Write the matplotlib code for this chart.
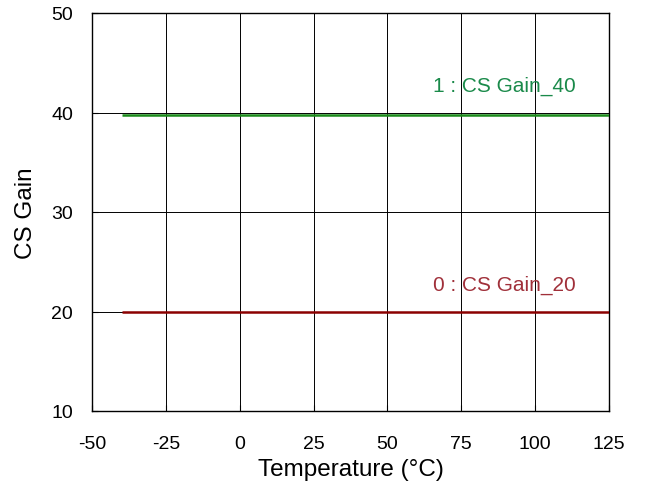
import matplotlib
matplotlib.use("Agg")
import matplotlib.pyplot as plt

plt.rcParams['font.family'] = ['Liberation Sans', 'DejaVu Sans']
plt.rcParams['axes.unicode_minus'] = False

temps = [-40, 125]
gain40 = [39.7, 39.7]
gain20 = [20.0, 20.0]
xticks = [-50, -25, 0, 25, 50, 75, 100, 125]
yticks = [10, 20, 30, 40, 50]
label40 = "1 : CS Gain_40"
label20 = "0 : CS Gain_20"

fig = plt.figure(figsize=(6.45, 4.89), dpi=100)
ax = fig.add_axes([92/645, 1 - 412/489, (609-92)/645, (412-14)/489])

ax.plot(temps, gain40, color='#1a8a1a', lw=1.8, solid_capstyle='butt', zorder=3)
ax.plot(temps, gain20, color='#8b0000', lw=1.8, solid_capstyle='butt', zorder=3)

ax.text(113.8, 42.7, label40, color='#1a8a4a', fontsize=15, ha='right', va='center')
ax.text(113.8, 22.7, label20, color='#a0303a', fontsize=15, ha='right', va='center')

ax.set_xlim(-50, 125)
ax.set_ylim(10, 50)
ax.set_xticks(xticks)
ax.set_yticks(yticks)
ax.grid(True, color='black', lw=0.7)
ax.tick_params(direction='in', length=4, labelsize=14, color='black')
ax.tick_params(axis='x', pad=17)
ax.tick_params(axis='y', pad=13.5)
for s in ax.spines.values():
    s.set_color('black')
    s.set_linewidth(1.0)
ax.set_xlabel('Temperature (°C)', fontsize=17.5)
ax.set_ylabel('CS Gain', fontsize=17.5)
ax.xaxis.set_label_coords(0.5, -0.118)
ax.yaxis.set_label_coords(-0.106, 0.5)

fig.savefig('out.png', dpi=100)
